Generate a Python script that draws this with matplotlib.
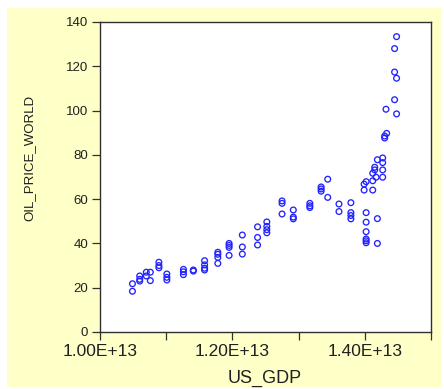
import matplotlib.pyplot as plt
from matplotlib.patches import Rectangle

# US GDP (units of 1e13) and world oil price
gdp = [
    1.049, 1.049,
    1.060, 1.060, 1.060,
    1.070, 1.070,
    1.076, 1.076,
    1.089, 1.089, 1.089,
    1.101, 1.101, 1.101,
    1.126, 1.126, 1.126,
    1.141, 1.141,
    1.158, 1.158, 1.158, 1.158,
    1.178, 1.178, 1.178, 1.178,
    1.195, 1.195, 1.195, 1.195,
    1.215, 1.215, 1.215,
    1.238, 1.238, 1.238,
    1.252, 1.252, 1.252, 1.252,
    1.275, 1.275, 1.275,
    1.292, 1.292, 1.292,
    1.317, 1.317, 1.317,
    1.334, 1.334, 1.334,
    1.344, 1.344,
    1.361, 1.361,
    1.379, 1.379, 1.379, 1.379,
    1.402, 1.402, 1.402, 1.402, 1.402, 1.402,
    1.419, 1.419,
    1.399, 1.399,
    1.402,
    1.412, 1.412, 1.412,
    1.415, 1.415,
    1.417,
    1.419,
    1.427, 1.427, 1.427, 1.427,
    1.430, 1.430,
    1.433,
    1.432,
    1.445, 1.445, 1.445,
    1.448, 1.448, 1.448,
]
oil = [
    21.8, 18.4,
    25.3, 23.8, 23.0,
    27.0, 25.3,
    27.0, 23.2,
    31.5, 30.0, 29.0,
    26.2, 24.7, 23.5,
    28.3, 27.2, 25.9,
    28.0, 27.5,
    32.2, 30.3, 28.8, 28.0,
    36.0, 35.1, 33.7, 31.0,
    40.0, 39.1, 38.2, 34.6,
    43.8, 38.4, 35.2,
    47.5, 42.7, 39.3,
    49.7, 47.7, 46.2, 44.8,
    59.2, 58.1, 53.3,
    55.1, 51.9, 51.1,
    58.1, 57.0, 56.2,
    65.5, 64.6, 63.6,
    69.0, 60.8,
    57.8, 54.4,
    58.4, 53.9, 52.6, 51.1,
    53.9, 49.6, 45.3, 42.0, 41.2, 40.3,
    51.2, 40.0,
    66.8, 64.1,
    67.9,
    71.7, 68.3, 64.1,
    74.4, 73.2,
    69.9,
    77.8,
    78.6, 76.5, 73.2, 69.9,
    88.5, 87.6,
    89.7,
    100.6,
    128.0, 117.4, 104.9,
    133.4, 114.6, 98.5,
]

x_ticks = [1.0e13, 1.1e13, 1.2e13, 1.3e13, 1.4e13, 1.5e13]
x_labels = ["1.00E+13", "", "1.20E+13", "", "1.40E+13", ""]
y_ticks = [0, 20, 40, 60, 80, 100, 120, 140]

W, H = 444, 389
fig = plt.figure(figsize=(W / 100, H / 100), dpi=100)
fig.patch.set_facecolor("white")
fig.patches.append(Rectangle((7 / W, 2 / H), 434 / W, 379 / H,
                             transform=fig.transFigure, facecolor="#ffffc8",
                             edgecolor="none", zorder=-10))

ax = fig.add_axes([100 / W, 1 - 332 / H, 331 / W, 310 / H])
ax.set_zorder(1)
ax.set_facecolor("white")
ax.scatter([g * 1e13 for g in gdp], oil, s=17, facecolors="none",
           edgecolors="#2222ff", linewidths=0.95, clip_on=False, zorder=3)

ax.set_xlim(1.0e13, 1.5e13)
ax.set_ylim(0, 140)
ax.set_xticks(x_ticks)
ax.set_xticklabels(x_labels)
ax.set_yticks(y_ticks)

txt = "#202020"
for s in ax.spines.values():
    s.set_color("#303030")
    s.set_linewidth(1.0)
ax.tick_params(axis="both", direction="out", length=5.5, width=0.9,
               color="#303030", labelcolor=txt)
ax.tick_params(axis="x", pad=3, labelsize=12.5)
ax.tick_params(axis="y", pad=3, labelsize=9.5)
for lab in ax.get_xticklabels() + ax.get_yticklabels():
    lab.set_family("Liberation Sans")

fig.text(265 / W, 1 - 378 / H, "US_GDP", ha="center", va="center",
         fontsize=13, color=txt, family="Liberation Sans")
fig.text(29 / W, 1 - 158 / H, "OIL_PRICE_WORLD", ha="center", va="center",
         rotation=90, fontsize=9.5, color=txt, family="Liberation Sans")

fig.savefig("out.png", dpi=100)
